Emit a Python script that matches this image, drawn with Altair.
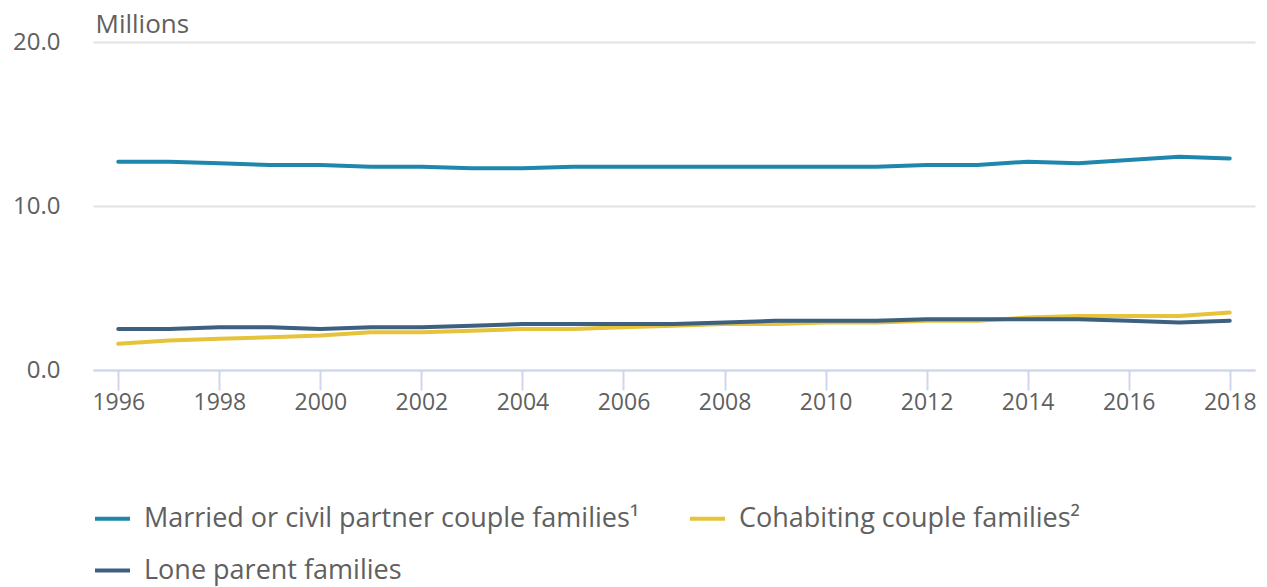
import altair as alt
import pandas as pd

years = list(range(1996, 2019))
married = [12.7, 12.7, 12.6, 12.5, 12.5, 12.4, 12.4, 12.3, 12.3, 12.4, 12.4, 12.4,
           12.4, 12.4, 12.4, 12.4, 12.5, 12.5, 12.7, 12.6, 12.8, 13.0, 12.9]
cohabiting = [1.6, 1.8, 1.9, 2.0, 2.1, 2.3, 2.3, 2.4, 2.5, 2.5, 2.6, 2.7,
              2.8, 2.8, 2.9, 2.9, 3.0, 3.0, 3.2, 3.3, 3.3, 3.3, 3.5]
lone = [2.5, 2.5, 2.6, 2.6, 2.5, 2.6, 2.6, 2.7, 2.8, 2.8, 2.8, 2.8,
        2.9, 3.0, 3.0, 3.0, 3.1, 3.1, 3.1, 3.1, 3.0, 2.9, 3.0]

series = ["Married or civil partner couple families\u00b9",
          "Cohabiting couple families\u00b2",
          "Lone parent families"]
colors = ["#1f86ad", "#e6c33a", "#3d5f80"]

rows = []
for name, vals in zip(series, [married, cohabiting, lone]):
    for y, v in zip(years, vals):
        rows.append({"year": y, "value": v, "series": name})
df = pd.DataFrame(rows)

FONT = "Open Sans"

chart = alt.Chart(df).mark_line(strokeWidth=4, strokeCap="round", strokeJoin="round").encode(
    x=alt.X("year:Q",
            scale=alt.Scale(domain=[1995.5, 2018.5], nice=False, zero=False),
            axis=alt.Axis(values=list(range(1996, 2019, 2)), format="d", title=None,
                          grid=False, domainColor="#cdd6ea", domainWidth=2,
                          tickColor="#cdd6ea", tickWidth=2, tickSize=20,
                          labelFontSize=23, labelColor="#606060", labelFont=FONT,
                          labelPadding=1, labelFlush=False)),
    y=alt.Y("value:Q",
            scale=alt.Scale(domain=[0, 20], nice=False),
            axis=alt.Axis(values=[0, 10, 20], format=".1f", title="Millions",
                          titleAngle=0, titleAlign="left", titleX=2, titleY=-10,
                          titleBaseline="alphabetic", titleFontSize=26,
                          titleFontWeight="normal", titleColor="#606060", titleFont=FONT,
                          domain=False, ticks=False, labelFontSize=24,
                          labelColor="#606060", labelFont=FONT, labelPadding=33,
                          gridColor="#e2e2e2", gridWidth=2)),
    color=alt.Color("series:N", sort=series,
                    scale=alt.Scale(domain=series, range=colors),
                    legend=alt.Legend(title=None, orient="none", legendX=0, legendY=457,
                                      direction="horizontal", columns=2,
                                      symbolType="stroke", symbolSize=1225,
                                      symbolStrokeWidth=4, labelFontSize=27,
                                      labelFont=FONT, labelColor="#606060",
                                      labelOffset=12, columnPadding=42,
                                      rowPadding=19, labelLimit=0))
).properties(
    width=1162, height=328,
    autosize=alt.AutoSizeParams(type="none"),
    padding={"left": 85, "top": 34, "right": 4, "bottom": 217}
).configure_view(strokeWidth=0)

chart.save("out.html", embed_options={"renderer": "svg", "actions": False})
